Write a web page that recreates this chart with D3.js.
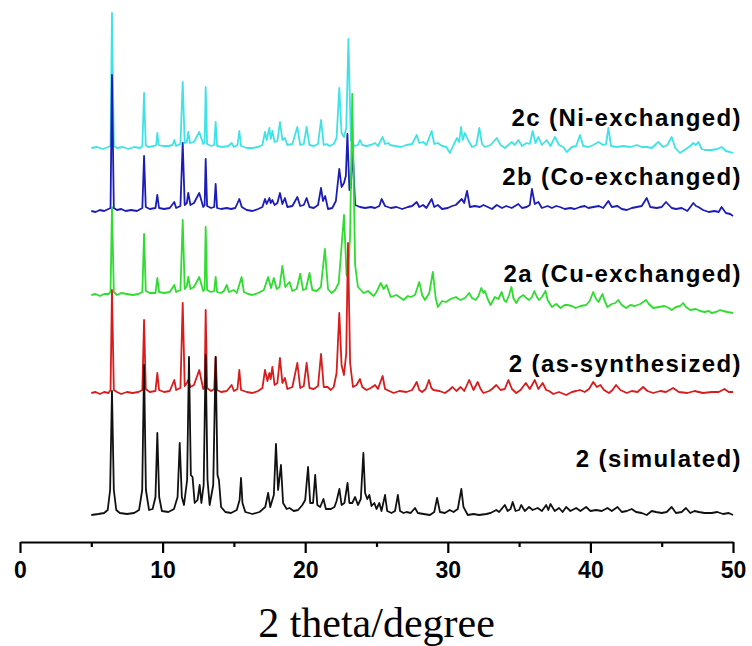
<!DOCTYPE html>
<html>
<head>
<meta charset="utf-8">
<script src="https://cdn.jsdelivr.net/npm/d3@7"></script>
<style>
  html, body { margin: 0; padding: 0; background: #fff; }
  svg { display: block; }
</style>
</head>
<body>
<svg id="chart" width="752" height="646"></svg>
<script>
// Powder X-ray diffraction patterns, [2θ (deg), intensity (a.u.)] vertices,
// intensities relative to each trace's own baseline.
const simulated = [
  [5.0,0],[5.5,1],[5.9,2],[6.15,5],[6.32,25],[6.45,124],[6.58,25],[6.75,5],[7.0,2],[7.5,1],[8.0,2],[8.35,5],
  [8.57,25],[8.70,150],[8.83,25],[9.05,5],[9.3,6],[9.5,18],[9.63,82],[9.76,18],[9.95,4],[10.4,3],[10.8,6],
  [11.05,18],[11.2,72],[11.35,18],[11.5,10],[11.72,35],[11.85,158],[11.98,40],[12.1,38],[12.25,12],[12.45,15],
  [12.6,30],[12.72,12],[12.88,30],[13.02,160],[13.15,35],[13.3,10],[13.55,30],[13.72,158],[13.85,40],[13.95,35],
  [14.1,8],[14.4,3],[14.8,2],[15.2,5],[15.4,15],[15.5,37],[15.6,12],[15.8,3],[16.3,1],[16.8,3],[17.2,8],
  [17.4,22],[17.55,8],[17.8,20],[17.95,71],[18.1,25],[18.3,50],[18.45,12],[18.7,6],[18.9,7],[19.2,4],[19.5,5],
  [19.8,10],[20.0,15],[20.2,48],[20.35,12],[20.55,12],[20.7,40],[20.85,10],[21.05,8],[21.28,16],[21.45,6],
  [21.8,6],[22.05,8],[22.2,14],[22.4,26],[22.55,10],[22.75,12],[22.97,32],[23.1,12],[23.3,12],[23.5,18],
  [23.7,10],[23.9,16],[24.08,62],[24.2,22],[24.35,16],[24.5,20],[24.65,9],[24.85,12],[25.0,6],[25.2,12],
  [25.35,4],[25.6,20],[25.75,4],[26.05,2],[26.3,4],[26.5,20],[26.65,4],[26.9,2],[27.1,3],[27.4,2],[27.7,7],
  [27.9,2],[28.3,1],[28.75,0],[29.05,3],[29.25,17],[29.45,3],[29.8,2],[30.13,5],[30.4,3],[30.7,6],[30.95,26],
  [31.1,8],[31.4,0],[31.8,1],[32.2,0],[32.7,1],[33.0,2],[33.4,5],[33.6,3],[34.0,10],[34.2,4],[34.4,6],
  [34.55,13],[34.75,4],[35.0,5],[35.15,10],[35.4,4],[35.7,8],[35.95,5],[36.3,7],[36.6,4],[36.9,10],[37.05,5],
  [37.2,11],[37.5,4],[37.8,7],[38.05,3],[38.3,8],[38.6,4],[39.0,7],[39.3,4],[39.7,8],[40.0,4],[40.4,5],
  [40.8,4],[41.2,7],[41.5,4],[41.9,8],[42.2,3],[42.55,4],[42.9,6],[43.2,3],[43.6,2],[43.95,0],[44.3,4],
  [44.6,3],[45.0,2],[45.35,3],[45.7,8],[46.0,2],[46.4,3],[46.7,7],[47.0,2],[47.3,4],[47.6,3],[48.0,2],
  [48.5,2],[48.9,3],[49.3,1],[49.7,2],[50.0,0]
];

const asSynthesized = [
  [5.0,0],[5.3,1],[5.6,-1],[5.9,1],[6.2,0],[6.35,3],[6.45,103],[6.58,3],[6.8,1],[7.1,-1],[7.5,1],[7.9,0],
  [8.3,1],[8.58,3],[8.70,73],[8.82,4],[9.1,1],[9.5,2],[9.63,20],[9.75,3],[10.1,1],[10.5,2],[10.82,13],
  [10.95,3],[11.25,5],[11.41,90],[11.55,7],[11.7,10],[11.8,13],[11.95,6],[12.2,8],[12.57,23],[12.85,4],
  [12.95,6],[13.02,83],[13.12,5],[13.4,2],[13.62,4],[13.72,36],[13.82,3],[14.1,1],[14.5,2],[14.84,8],
  [15.0,2],[15.25,4],[15.38,23],[15.5,3],[15.9,1],[16.3,0],[16.7,2],[17.0,5],[17.18,23],[17.35,12],
  [17.49,20],[17.58,14],[17.7,26],[17.85,8],[18.05,10],[18.23,35],[18.4,10],[18.58,15],[18.75,4],[19.1,6],
  [19.45,30],[19.65,5],[19.9,7],[20.1,30],[20.3,5],[20.6,4],[20.9,7],[21.11,39],[21.3,6],[21.57,6],
  [21.8,3],[22.0,6],[22.2,20],[22.39,80],[22.55,28],[22.72,18],[22.88,40],[23.0,150],[23.15,30],[23.35,6],
  [23.6,8],[23.84,14],[24.0,6],[24.3,3],[24.6,5],[24.9,8],[25.1,4],[25.43,17],[25.6,4],[25.9,2],[26.2,0],
  [26.6,2],[27.1,1],[27.5,3],[27.82,11],[28.0,3],[28.2,1],[28.45,4],[28.68,13],[28.85,5],[29.0,3],[29.4,2],
  [29.8,0],[30.1,3],[30.33,6],[30.6,2],[30.9,6],[31.15,2],[31.5,13],[31.8,3],[32.1,11],[32.3,4],[32.5,0],
  [32.9,2],[33.1,4],[33.4,8],[33.7,3],[34.0,4],[34.25,13],[34.5,4],[34.8,0],[35.1,3],[35.47,10],[35.75,4],
  [36.1,13],[36.35,4],[36.65,10],[36.9,3],[37.1,2],[37.4,-1],[37.8,1],[38.3,-2],[38.7,1],[39.0,2],[39.27,3],
  [39.6,1],[39.9,4],[40.2,11],[40.45,6],[40.7,8],[40.95,3],[41.3,0],[41.55,3],[41.8,8],[42.1,3],[42.55,0],
  [42.9,2],[43.3,1],[43.7,6],[44.0,2],[44.4,0],[44.9,2],[45.3,1],[45.8,5],[46.2,1],[46.8,0],[47.3,2],
  [47.9,0],[48.5,1],[49.0,1],[49.4,4],[49.7,1],[50.0,1]
];

const cuExchanged = [
  [5.0,0],[5.3,1],[5.6,-1],[5.9,1],[6.2,1],[6.35,3],[6.45,88],[6.58,3],[6.8,0],[7.1,2],[7.5,1],[7.9,0],
  [8.3,1],[8.58,3],[8.70,61],[8.82,4],[9.1,2],[9.5,2],[9.63,17],[9.75,3],[10.1,2],[10.5,3],[10.82,10],
  [10.95,3],[11.25,5],[11.41,75],[11.55,6],[11.7,9],[11.8,18],[11.95,6],[12.2,8],[12.57,18],[12.85,4],
  [12.95,6],[13.02,68],[13.12,5],[13.4,3],[13.62,4],[13.72,18],[13.82,3],[14.1,2],[14.3,4],[14.5,10],
  [14.65,3],[15.0,5],[15.2,2],[15.54,18],[15.7,3],[16.0,1],[16.3,0],[16.7,2],[17.1,5],[17.4,18],[17.6,7],
  [17.8,17],[18.0,6],[18.2,8],[18.4,29],[18.6,8],[18.9,13],[19.1,4],[19.4,6],[19.65,21],[19.85,5],
  [20.05,6],[20.3,22],[20.5,5],[20.8,4],[21.1,8],[21.38,46],[21.6,6],[21.85,2],[22.1,5],[22.35,12],
  [22.72,80],[22.9,20],[23.0,18],[23.15,60],[23.3,201],[23.5,30],[23.7,8],[24.1,2],[24.4,4],[24.8,-1],
  [25.0,3],[25.3,12],[25.5,6],[25.7,10],[26.0,-2],[26.4,0],[26.9,-5],[27.2,-1],[27.4,-2],[27.7,0],[28.0,13],
  [28.2,0],[28.4,-5],[28.7,2],[28.95,23],[29.15,-3],[29.3,-12],[29.6,-6],[29.87,-7],[30.2,-4],[30.57,-2],
  [30.75,-4],[30.9,-5],[31.2,-3],[31.5,2],[31.7,-3],[31.95,-5],[32.15,-1],[32.35,7],[32.5,2],[32.6,4],
  [32.8,-4],[33.0,-10],[33.3,-2],[33.55,-4],[33.78,3],[33.95,-5],[34.1,-7],[34.3,0],[34.46,8],[34.6,-3],
  [34.8,-8],[35.0,-3],[35.3,0],[35.5,-3],[35.7,-5],[35.9,-2],[36.07,4],[36.25,-2],[36.4,-5],[36.6,-2],
  [36.85,4],[37.0,-5],[37.3,-12],[37.6,-9],[37.9,-13],[38.2,-10],[38.4,-10],[38.7,-11],[38.97,-13],
  [39.3,-11],[39.7,-10],[39.95,-6],[40.2,3],[40.4,-4],[40.57,-7],[40.7,-3],[40.85,1],[41.0,-6],[41.2,-12],
  [41.5,-9],[41.75,-8],[41.95,-5],[42.2,-10],[42.5,-13],[42.8,-10],[43.1,-11],[43.5,-9],[43.9,-5],
  [44.1,-9],[44.4,-13],[44.8,-12],[45.2,-11],[45.5,-13],[45.7,-15],[46.0,-12],[46.3,-11],[46.5,-8],
  [46.7,-12],[47.0,-15],[47.4,-14],[47.7,-16],[48.0,-17],[48.3,-16],[48.5,-18],[48.8,-17],[49.1,-15],
  [49.3,-16],[49.6,-17],[50.0,-18]
];

const coExchanged = [
  [5.0,0],[5.3,-1],[5.6,1],[5.9,0],[6.2,2],[6.35,3],[6.45,136],[6.58,3],[6.8,1],[7.1,2],[7.4,0],[7.8,1],
  [8.2,0],[8.58,3],[8.70,55],[8.82,4],[9.1,2],[9.5,3],[9.63,16],[9.75,3],[10.1,2],[10.5,3],[10.82,9],
  [10.95,3],[11.25,5],[11.41,68],[11.55,6],[11.7,8],[11.8,18],[11.95,6],[12.2,8],[12.57,18],[12.85,4],
  [12.95,6],[13.02,52],[13.12,5],[13.4,3],[13.62,4],[13.72,27],[13.82,3],[14.1,2],[14.5,3],[14.8,2],
  [15.1,3],[15.38,12],[15.55,4],[15.9,1],[16.3,0],[16.7,2],[17.0,4],[17.18,12],[17.3,7],[17.49,13],
  [17.58,8],[17.7,11],[17.85,6],[18.05,8],[18.23,18],[18.4,7],[18.58,13],[18.75,4],[19.1,5],[19.45,14],
  [19.65,5],[19.9,6],[20.1,13],[20.3,4],[20.6,3],[20.9,6],[21.11,23],[21.25,10],[21.4,15],[21.6,2],
  [21.9,3],[22.15,10],[22.39,42],[22.55,24],[22.72,28],[22.85,35],[22.96,77],[23.1,21],[23.2,23],
  [23.33,61],[23.5,6],[23.84,4],[24.2,3],[24.6,4],[24.9,3],[25.2,5],[25.36,12],[25.6,5],[26.0,3],[26.4,4],
  [26.8,2],[27.2,4],[27.5,5],[27.82,9],[28.0,4],[28.27,6],[28.5,3],[28.87,12],[29.05,4],[29.3,6],[29.6,2],
  [30.0,3],[30.3,5],[30.56,6],[30.98,12],[31.15,8],[31.35,20],[31.55,4],[31.9,5],[32.25,4],[32.5,6],
  [32.8,4],[33.1,2],[33.43,6],[33.8,3],[34.1,5],[34.48,3],[34.95,7],[35.2,3],[35.53,4],[35.75,6],[35.9,22],
  [36.1,7],[36.35,9],[36.6,3],[37.0,5],[37.3,3],[37.6,5],[37.87,4],[38.2,2],[38.6,3],[38.9,2],[39.27,4],
  [39.6,5],[39.86,3],[40.2,4],[40.6,5],[40.9,3],[41.26,10],[41.5,4],[41.9,5],[42.2,2],[42.55,1],[42.9,3],
  [43.25,4],[43.6,5],[43.95,13],[44.2,4],[44.64,3],[45.0,4],[45.3,9],[45.7,3],[46.0,2],[46.4,3],[46.8,0],
  [47.22,8],[47.4,5],[47.57,4],[47.9,1],[48.3,-1],[48.7,0],[49.0,-1],[49.2,4],[49.5,-2],[49.8,-3],[50.0,-5]
];

const niExchanged = [
  [5.0,0],[5.4,1],[5.8,-1],[6.2,1],[6.35,2],[6.45,135],[6.58,2],[6.8,0],[7.2,1],[7.6,-1],[8.0,1],[8.4,0],
  [8.58,2],[8.70,55],[8.82,3],[9.0,1],[9.4,2],[9.55,3],[9.63,15],[9.72,3],[10.0,2],[10.4,2],[10.7,3],
  [10.82,8],[10.95,2],[11.25,4],[11.41,66],[11.55,5],[11.7,6],[11.8,16],[11.92,5],[12.2,6],[12.57,16],
  [12.85,4],[12.95,6],[13.02,61],[13.12,4],[13.4,2],[13.62,3],[13.72,26],[13.82,2],[14.2,1],[14.6,2],
  [14.84,5],[15.0,1],[15.25,3],[15.38,17],[15.5,2],[15.9,0],[16.3,0],[16.7,1],[17.0,3],[17.18,16],[17.3,8],
  [17.49,20],[17.58,9],[17.7,17],[17.85,6],[18.05,7],[18.23,26],[18.4,8],[18.58,10],[18.75,3],[19.1,4],
  [19.45,21],[19.65,3],[19.9,4],[20.1,21],[20.3,3],[20.6,2],[20.9,4],[21.11,28],[21.3,3],[21.5,4],[21.7,2],
  [22.0,4],[22.2,10],[22.39,60],[22.55,15],[22.72,11],[22.88,20],[23.03,109],[23.2,8],[23.45,2],[23.7,3],
  [23.84,8],[24.0,3],[24.3,2],[24.6,3],[24.9,5],[25.1,2],[25.43,11],[25.6,4],[25.83,5],[25.95,3],[26.3,2],
  [26.7,1],[27.1,3],[27.5,4],[27.82,13],[28.0,5],[28.27,6],[28.5,3],[28.87,17],[29.05,4],[29.3,5],[29.6,2],
  [29.9,1],[30.15,-5],[30.4,3],[30.65,10],[30.8,6],[30.93,21],[31.05,8],[31.2,15],[31.42,8],[31.7,1],
  [32.0,3],[32.21,20],[32.4,4],[32.6,1],[33.0,3],[33.43,10],[33.7,3],[34.0,0],[34.25,3],[34.48,6],[34.7,3],
  [34.95,8],[35.2,2],[35.53,5],[35.75,4],[35.95,17],[36.15,5],[36.35,11],[36.6,3],[36.93,8],[37.2,2],
  [37.52,11],[37.8,3],[38.1,1],[38.34,-4],[38.7,1],[39.0,2],[39.27,13],[39.5,2],[39.86,1],[40.2,3],
  [40.56,6],[40.9,3],[41.1,4],[41.26,20],[41.45,2],[41.84,1],[42.3,2],[42.8,1],[43.25,3],[43.6,1],
  [43.95,1],[44.3,0],[44.76,6],[45.1,1],[45.4,3],[45.7,11],[45.95,0],[46.28,-5],[46.7,-1],[47.0,2],
  [47.22,5],[47.4,3],[47.57,6],[47.8,-1],[48.04,-2],[48.5,-2],[48.9,-1],[49.2,1],[49.5,-3],[49.8,-4],[50.0,-5]
];

// Trace names, vertical offsets (a.u.) and line colours, in drawing order
const seriesNames   = ["2c (Ni-exchanged)", "2b (Co-exchanged)", "2a (Cu-exchanged)", "2 (as-synthesized)", "2 (simulated)"];
const seriesData    = [niExchanged, coExchanged, cuExchanged, asSynthesized, simulated];
const seriesOffsets = [367, 304, 220, 122, 0];
const seriesColors  = ["#3fe3e6", "#1c1cb8", "#2fdc2f", "#d81c1c", "#111111"];
const labelBaselines = [126, 185, 282, 372, 467];

const xTicksMajor = [0, 10, 20, 30, 40, 50];
const xTicksMinor = [5, 15, 25, 35, 45];
const xTitle = "2 theta/degree";

const svg = d3.select("#chart");
const x = d3.scaleLinear().domain([0, 50]).range([20, 733]);
const y = d3.scaleLinear().domain([0, 515]).range([515, 0]);

const line = d3.line()
  .x(d => x(d[0]))
  .y(d => y(d[1]));

// Patterns
seriesData.forEach((data, i) => {
  const off = seriesOffsets[i];
  svg.append("path")
    .datum(data.map(d => [d[0], d[1] + off]))
    .attr("d", line)
    .attr("fill", "none")
    .attr("stroke", seriesColors[i])
    .attr("stroke-width", 1.8)
    .attr("stroke-linejoin", "round");
});

// Trace labels
svg.append("g")
  .selectAll("text")
  .data(seriesNames)
  .join("text")
  .attr("x", 742)
  .attr("y", (d, i) => labelBaselines[i])
  .attr("text-anchor", "end")
  .attr("font-family", "Liberation Sans, Arial, sans-serif")
  .attr("font-weight", "bold")
  .attr("font-size", 24)
  .attr("letter-spacing", 1.4)
  .attr("fill", "#000")
  .text(d => d);

// Bottom axis
const axisY = 542;
const axisMajor = d3.axisBottom(x).tickValues(xTicksMajor).tickSize(11).tickSizeOuter(0).tickPadding(9)
  .tickFormat(d3.format("d"));
const gAxis = svg.append("g").attr("transform", `translate(0,${axisY})`).call(axisMajor);
gAxis.select(".domain").attr("stroke", "#000").attr("stroke-width", 2.2);
gAxis.selectAll(".tick line").attr("stroke", "#000").attr("stroke-width", 2.2);
gAxis.selectAll(".tick text")
  .attr("font-family", "Liberation Sans, Arial, sans-serif")
  .attr("font-weight", "bold")
  .attr("font-size", 23)
  .attr("fill", "#000");

const axisMinor = d3.axisBottom(x).tickValues(xTicksMinor).tickSize(5).tickSizeOuter(0).tickFormat("");
const gMinor = svg.append("g").attr("transform", `translate(0,${axisY})`).call(axisMinor);
gMinor.select(".domain").remove();
gMinor.selectAll(".tick line").attr("stroke", "#000").attr("stroke-width", 2.2);

// Axis title
svg.append("text")
  .attr("x", x(25))
  .attr("y", 637)
  .attr("text-anchor", "middle")
  .attr("font-family", "Liberation Serif, Times New Roman, serif")
  .attr("font-size", 42)
  .attr("fill", "#000")
  .text(xTitle);
</script>
</body>
</html>
